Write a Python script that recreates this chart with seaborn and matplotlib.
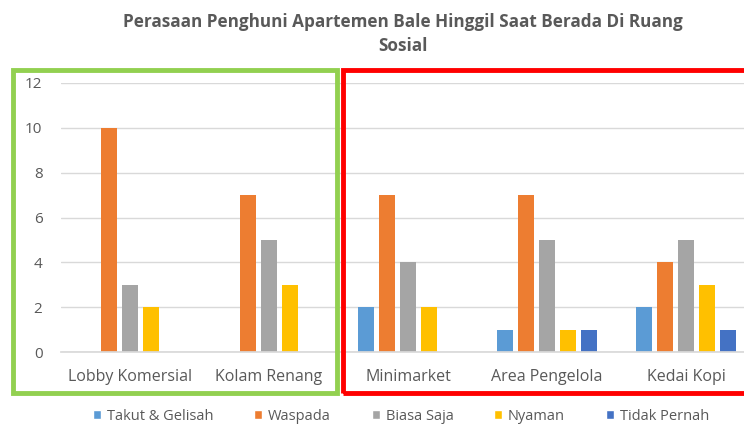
import pandas as pd
import numpy as np
import matplotlib.pyplot as plt
import seaborn as sns
from matplotlib.patches import Rectangle, Patch

# data
categories = ['Lobby Komersial', 'Kolam Renang', 'Minimarket', 'Area Pengelola', 'Kedai Kopi']
series = ['Takut & Gelisah', 'Waspada', 'Biasa Saja', 'Nyaman', 'Tidak Pernah']
takut = [0, 0, 2, 1, 2]
waspada = [10, 7, 7, 7, 4]
biasa = [3, 5, 4, 5, 5]
nyaman = [2, 3, 2, 1, 3]
tidak = [0, 0, 0, 1, 1]
colors = ['#5B9BD5', '#ED7D31', '#A5A5A5', '#FFC000', '#4472C4']

rows = []
for name, vals in zip(series, [takut, waspada, biasa, nyaman, tidak]):
    for cat, v in zip(categories, vals):
        rows.append({'Lokasi': cat, 'Perasaan': name, 'Jumlah': v})
df = pd.DataFrame(rows)

sns.set_theme(style='white')
plt.rcParams['font.family'] = ['Open Sans', 'DejaVu Sans']
txt = '#595959'

fig = plt.figure(figsize=(7.44, 4.28), dpi=100)
ax = fig.add_axes([60.5 / 744, 1 - 352 / 428, (744 - 60.5) / 744, (352 - 83) / 428])

sns.barplot(data=df, x='Lokasi', y='Jumlah', hue='Perasaan', order=categories,
            hue_order=series, palette=colors, width=0.755, gap=0.22,
            saturation=1, linewidth=0, legend=False, ax=ax)

ax.set_ylim(0, 12)
ax.set_xlim(-0.5, -0.5 + (744 - 60.5) / 139)
ax.set_yticks(range(0, 13, 2))
ax.yaxis.grid(True, color='#D9D9D9', linewidth=1)
ax.set_axisbelow(True)
for s in ['top', 'right', 'left']:
    ax.spines[s].set_visible(False)
ax.spines['bottom'].set_color('#D9D9D9')
ax.set_xlabel('')
ax.set_ylabel('')
ax.tick_params(axis='x', colors=txt, labelsize=11.5, pad=12, length=0)
ax.tick_params(axis='y', colors=txt, labelsize=11, pad=13, length=0)

fig.text(403 / 744, 1 - 34 / 428,
         'Perasaan Penghuni Apartemen Bale Hinggil Saat Berada Di Ruang\nSosial',
         ha='center', va='center', fontsize=12.3, fontweight='bold', color=txt,
         linespacing=1.45)

# highlight boxes
fig.patches.append(Rectangle((13 / 744, 1 - 393 / 428), 324 / 744, 323 / 428,
                             transform=fig.transFigure, fill=False,
                             edgecolor='#92D050', linewidth=3.5))
fig.patches.append(Rectangle((343 / 744, 1 - 393 / 428), 420 / 744, 323 / 428,
                             transform=fig.transFigure, fill=False,
                             edgecolor='#FF0000', linewidth=3.5))

handles = [Patch(facecolor=c, label=s) for c, s in zip(colors, series)]
fig.legend(handles=handles, loc='center', bbox_to_anchor=(401 / 744, 1 - 416 / 428),
           ncol=5, frameon=False, fontsize=10.5, labelcolor=txt,
           handlelength=0.55, handleheight=0.55, handletextpad=0.4, columnspacing=2.8)

fig.savefig('out.png', dpi=100)
